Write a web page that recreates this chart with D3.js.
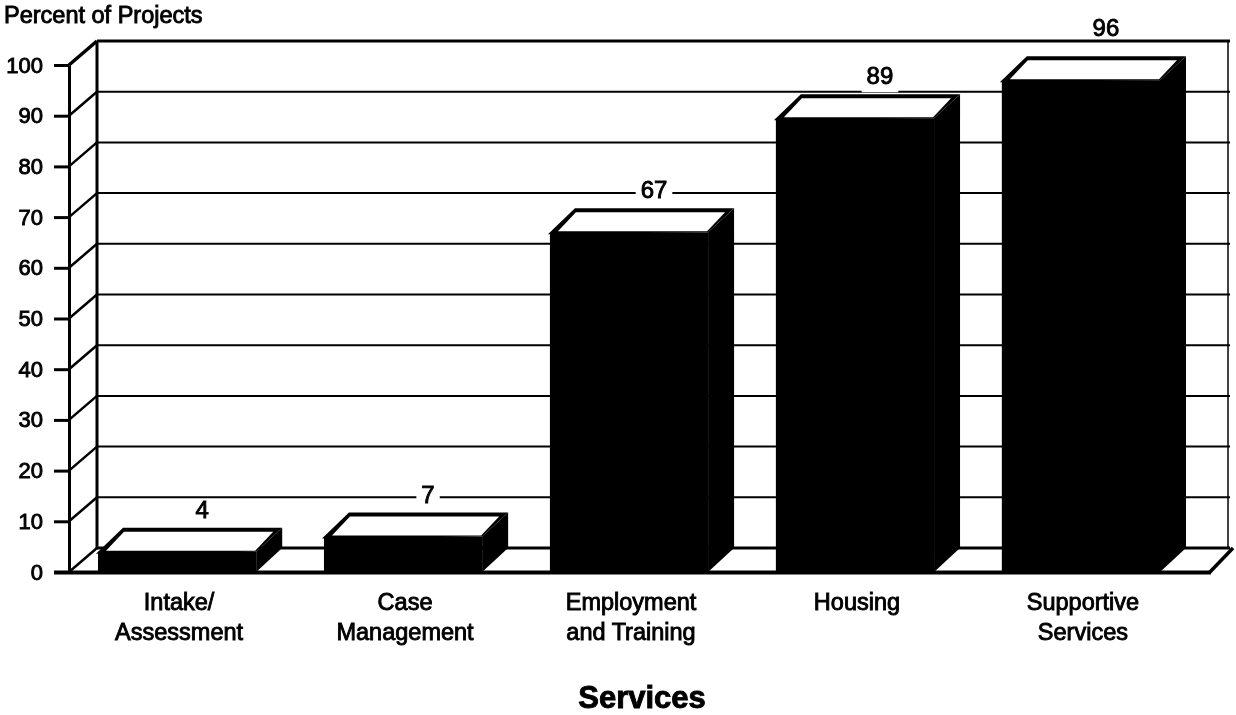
<!DOCTYPE html>
<html>
<head>
<meta charset="utf-8">
<script src="https://cdn.jsdelivr.net/npm/d3@7/dist/d3.min.js"></script>
<style>
html,body{margin:0;padding:0;background:#fff;overflow:hidden}
svg{display:block;filter:blur(.35px)}
text{font-family:"Liberation Sans",Arial,sans-serif;fill:#000;stroke:#000;stroke-width:.9px}
</style>
</head>
<body>
<svg id="chart" width="1236" height="715"></svg>
<script>
const categories = [["Intake/","Assessment"],["Case","Management"],["Employment","and Training"],["Housing"],["Supportive","Services"]];
const valueLabels = ["4","7","67","89","96"];
const barHeights = [4, 7, 67, 89.5, 97];
const tickValues = [0,10,20,30,40,50,60,70,80,90,100];
const yAxisTitle = "Percent of Projects";
const xAxisTitle = "Services";

const dx = 26, dy = -24, wallDx = 28;
const frontX = 69, wallRight = 1228;
const svg = d3.select("#chart");
const y = d3.scaleLinear().domain([0,100]).range([572,65]);
const x = d3.scaleBand().domain(categories.map(c=>c.join(" "))).range([98,1160]).paddingInner(0.3).paddingOuter(0);
const backX = frontX + wallDx;

// back wall gridlines
const grid = svg.append("g").attr("stroke","#000").attr("fill","none");
grid.selectAll("line.g").data(tickValues).join("line")
  .attr("x1",backX).attr("x2",wallRight+2)
  .attr("y1",d=>y(d)+dy).attr("y2",d=>y(d)+dy)
  .attr("stroke-width",d=>d===100?3:(d===0?3:2));
grid.append("line").attr("x1",wallRight).attr("x2",wallRight).attr("y1",y(100)+dy).attr("y2",y(0)+dy).attr("stroke-width",1.5);
grid.append("line").attr("x1",wallRight-19).attr("x2",wallRight+5).attr("y1",y(0)+1).attr("y2",y(0)+dy).attr("stroke-width",3.5);

// left side wall
const side = svg.append("g").attr("stroke","#000").attr("fill","none");
side.append("line").attr("x1",backX).attr("x2",backX).attr("y1",y(100)+dy).attr("y2",y(0)+dy).attr("stroke-width",3);
side.selectAll("line.d").data(tickValues).join("line")
  .attr("x1",frontX).attr("y1",d=>y(d)).attr("x2",backX).attr("y2",d=>y(d)+dy)
  .attr("stroke-width",d=>d===100?3.5:2.5);

// front axis with library ticks
const axis = svg.append("g").attr("transform",`translate(${frontX},0)`)
  .call(d3.axisLeft(y).tickValues(tickValues).tickSize(15).tickPadding(11).tickSizeOuter(0));
axis.selectAll("path").attr("stroke","#000").attr("stroke-width",3);
axis.selectAll("line").attr("stroke","#000").attr("stroke-width",3);
axis.selectAll("text").style("font-family",'"Liberation Sans",Arial,sans-serif').style("font-size","22px");

// floor front edge
svg.append("line").attr("x1",54).attr("x2",wallRight-17).attr("y1",y(0)+.5).attr("y2",y(0)+.5).attr("stroke","#000").attr("stroke-width",4);

// bars
const rows = categories.map((c,i)=>({key:c.join(" "),lines:c,h:barHeights[i],label:valueLabels[i]}));
const bars = svg.append("g").selectAll("g").data(rows).join("g");
bars.append("rect").attr("x",d=>x(d.key)).attr("width",x.bandwidth())
  .attr("y",d=>y(d.h)).attr("height",d=>y(0)-y(d.h)+1).attr("fill","#000");
bars.append("polygon").attr("fill","#000").attr("points",d=>{
  const x1=x(d.key)+x.bandwidth(), t=y(d.h), b=y(0);
  return [[x1,t],[x1+dx,t+dy],[x1+dx,b+dy],[x1,b]].join(" ");
});
// top face: black outline, then the white panel set inside it
bars.append("polygon").attr("fill","#000").attr("points",d=>{
  const x0=x(d.key), x1=x0+x.bandwidth(), t=y(d.h);
  return [[x0-2,t+2],[x0+dx-1,t+dy],[x1+dx,t+dy],[x1,t]].join(" ");
});
bars.append("polygon").attr("fill","#fff").attr("points",d=>{
  const x0=x(d.key), x1=x0+x.bandwidth(), t=y(d.h);
  return [[x0+8,t-1],[x0+dx,t+dy+4],[x1+dx-9,t+dy+4],[x1-1,t-1]].join(" ");
});

// value labels, breaking any gridline they sit on
const frameY = y(100)+dy;
const labels = svg.append("g").selectAll("g").data(rows).join("g");
const labelY = d=>{
  const c = y(d.h)+dy-18;
  return Math.abs(c-frameY)<14 ? frameY-13 : c;
};
const labelX = d=>x(d.key)+x.bandwidth()/2+dx-1;
labels.append("text").text(d=>d.label)
  .attr("x",labelX).attr("y",d=>labelY(d)+8)
  .attr("text-anchor","middle").style("font-size","24px");
labels.insert("rect","text").each(function(d){
  const b=this.parentNode.querySelector("text").getBBox();
  d3.select(this).attr("x",b.x-5).attr("width",b.width+10).attr("y",b.y+5).attr("height",b.height-2);
}).attr("fill",d=>Math.abs(labelY(d)-frameY)<20?"none":"#fff");

// category labels
const cats = svg.append("g").selectAll("text").data(rows).join("text")
  .attr("text-anchor","middle").style("font-size","23.5px")
  .attr("transform",d=>`translate(${x(d.key)+x.bandwidth()/2+2},610)`);
cats.selectAll("tspan").data(d=>d.lines).join("tspan").attr("x",0).attr("dy",(d,i)=>i?30:0).text(d=>d);

// titles
svg.append("text").attr("x",4).attr("y",23).style("font-size","23.5px").text(yAxisTitle);
svg.append("text").attr("x",642).attr("y",708).attr("text-anchor","middle")
  .style("font-size","31px").style("font-weight","bold").text(xAxisTitle);
</script>
</body>
</html>
